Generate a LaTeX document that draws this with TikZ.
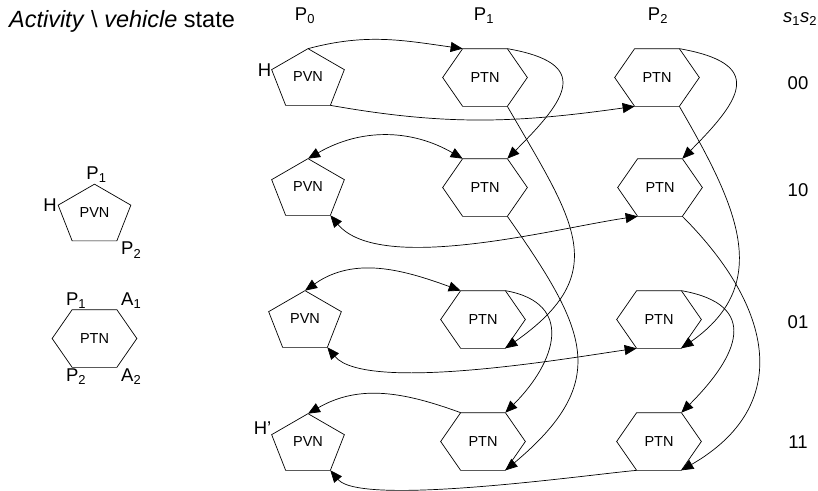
\documentclass[tikz,border=0pt]{standalone}
\usepackage{fontspec}
\setmainfont{Liberation Sans}
\usetikzlibrary{arrows.meta}

\tikzset{
  pvnbox/.style={minimum width=72pt, minimum height=56pt, inner sep=0pt, font=\fontsize{14.5}{16}\selectfont},
  ptnbox/.style={minimum width=84pt, minimum height=57pt, inner sep=0pt, font=\fontsize{14.5}{16}\selectfont},
  lbl/.style={font=\fontsize{18.5}{22}\selectfont, inner sep=1pt},
  arr/.style={-{Triangle[length=12pt,width=10pt]}},
  dbl/.style={{Triangle[length=12pt,width=10pt]}-{Triangle[length=12pt,width=10pt]}},
}

% pentagon: name, centre
\newcommand{\pvn}[2]{%
  \node[pvnbox] (#1) at (#2) {PVN};
  \coordinate (#1-P1) at (#1.north);
  \coordinate (#1-H)  at ([yshift=-21pt]#1.north west);
  \coordinate (#1-R)  at ([yshift=-21pt]#1.north east);
  \coordinate (#1-P2) at ([xshift=-14pt]#1.south east);
  \coordinate (#1-B)  at ([xshift=14pt]#1.south west);
  \draw (#1-P1) -- (#1-R) -- (#1-P2) -- (#1-B) -- (#1-H) -- cycle;
}
% hexagon: name, centre
\newcommand{\ptn}[2]{%
  \node[ptnbox] (#1) at (#2) {PTN};
  \coordinate (#1-P1) at ([xshift=20pt]#1.north west);
  \coordinate (#1-A1) at ([xshift=-20pt]#1.north east);
  \coordinate (#1-A2) at ([xshift=-20pt]#1.south east);
  \coordinate (#1-P2) at ([xshift=20pt]#1.south west);
  \draw (#1-P1) -- (#1-A1) -- (#1.east) -- (#1-A2) -- (#1-P2) -- (#1.west) -- cycle;
}

\begin{document}
\begin{tikzpicture}[x=1pt, y=1pt, line width=0.7pt]
  \useasboundingbox (0,0) rectangle (818,-490);

  % Headings
  \node[lbl, font=\fontsize{23.5}{26}\selectfont] (title) at (122,-21)
    {\textit{Activity} \textbackslash{} \textit{vehicle} state};
  \node[lbl] (p0) at (305,-16) {P\textsubscript{0}};
  \node[lbl] (p1) at (484,-16) {P\textsubscript{1}};
  \node[lbl] (p2) at (658,-16) {P\textsubscript{2}};
  \node[lbl] (ss) at (800,-19) {\textit{s}\textsubscript{1}\textit{s}\textsubscript{2}};
  \node[lbl] (r00) at (798,-83) {00};
  \node[lbl] (r10) at (798,-190) {10};
  \node[lbl] (r01) at (798,-322) {01};
  \node[lbl] (r11) at (798,-442) {11};

  % Legend
  \pvn{lv}{94.5,-212.5}
  \ptn{lt}{94.5,-338.5}
  \node[lbl, above, xshift=2pt] (lvp1) at (lv-P1) {P\textsubscript{1}};
  \node[lbl, left] (lvh) at (lv-H) {H};
  \node[lbl, below right, xshift=3pt] (lvp2) at (lv-P2) {P\textsubscript{2}};
  \node[lbl, above, xshift=4pt] (ltp1) at (lt-P1) {P\textsubscript{1}};
  \node[lbl, above right, xshift=3pt] (lta1) at (lt-A1) {A\textsubscript{1}};
  \node[lbl, below, xshift=4pt] (ltp2) at (lt-P2) {P\textsubscript{2}};
  \node[lbl, below right, xshift=3pt] (lta2) at (lt-A2) {A\textsubscript{2}};

  % States
  \pvn{v1}{308,-77}   \ptn{a1}{485,-77.5}  \ptn{b1}{657,-77.5}
  \pvn{v2}{308,-187}  \ptn{a2}{485,-187.5} \ptn{b2}{660,-187.5}
  \pvn{v3}{305,-319}  \ptn{a3}{483,-319.5} \ptn{b3}{659,-319.5}
  \pvn{v4}{308,-442}  \ptn{a4}{483,-441.5} \ptn{b4}{659,-441.5}
  \node[lbl, left, inner sep=0pt] (hh) at (v1-H) {H};
  \node[lbl, above left, inner sep=0pt] (hh2) at (v4-H) {H’};

  % row 00
  \draw[arr] (v1-P1) to[out=15,in=172] (a1-P1);
  \draw[arr] (v1-P2) to[out=-10,in=188] (b1-P2);
  % row 10
  \draw[dbl] (v2-P1) to[out=30,in=150] (a2-P1);
  \draw[dbl] (v2-P2) to[out=-50,in=188,looseness=0.65] (b2-P2);
  % row 01
  \draw[dbl] (v3-P1) to[out=35,in=160] (a3-P1);
  \draw[dbl] (v3-P2) to[out=-50,in=188,looseness=0.5] (b3-P2);
  % row 11
  \draw[arr] (a4-P1) to[out=160,in=30] (v4-P1);
  \draw[arr] (b4-P2) to[out=185,in=-50,looseness=0.4] (v4-P2);

  % column P1
  \draw[arr] (a1-A1) to[out=-10,in=45,looseness=2] (a2-A1);
  \draw[arr] (a3-A1) to[out=-10,in=45,looseness=1.5] (a4-A1);
  \draw[arr] (a1-A2) to[out=-60,in=35,looseness=1.4] (a3-A2);
  \draw[arr] (a2-A2) to[out=-55,in=40,looseness=1.4] (a4-A2);
  % column P2
  \draw[arr] (b1-A1) to[out=-10,in=45,looseness=2] (b2-A1);
  \draw[arr] (b3-A1) to[out=-10,in=45,looseness=1.7] (b4-A1);
  \draw[arr] (b1-A2) to[out=-60,in=35,looseness=1.2] (b3-A2);
  \draw[arr] (b2-A2) to[out=-45,in=30,looseness=1.3] (b4-A2);
\end{tikzpicture}
\end{document}
